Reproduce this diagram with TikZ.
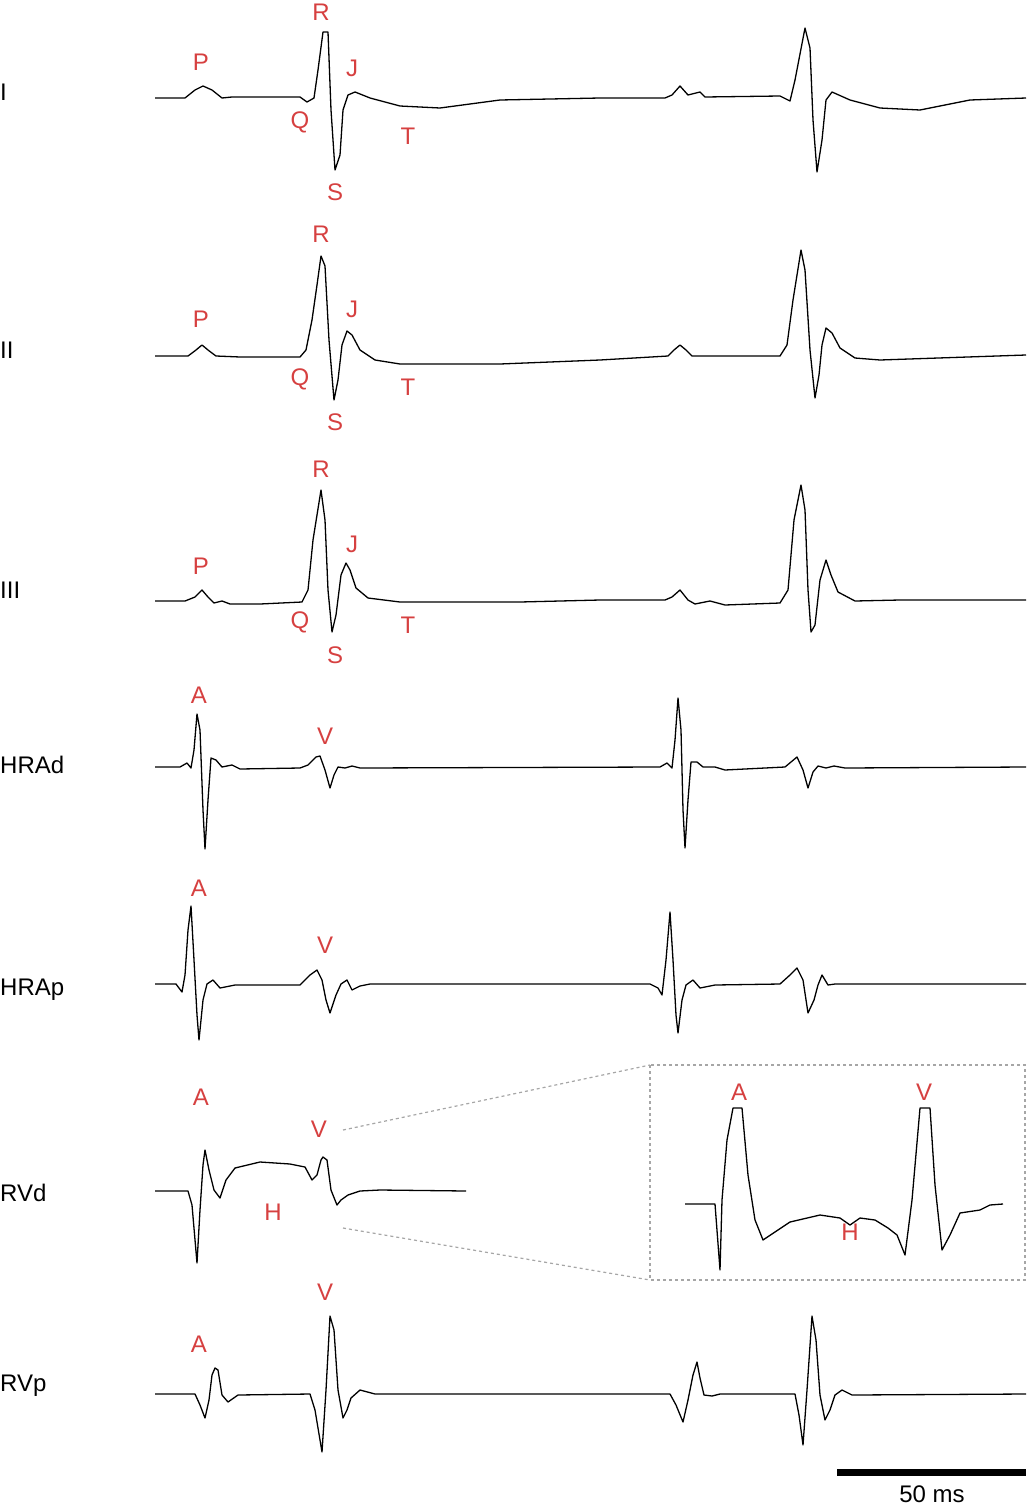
\documentclass[tikz,border=0pt]{standalone}
\usepackage{fontspec}
\setmainfont{Liberation Sans}
\usepackage{tikz}

\definecolor{wavered}{RGB}{214,64,64}
\tikzset{
  trace/.style={line width=1.3pt,black,line join=round},
  wave/.style={text=wavered,font=\fontsize{24}{24}\selectfont,inner sep=0pt},
  lead/.style={font=\fontsize{24}{24}\selectfont,inner sep=0pt,anchor=west},
  zoomline/.style={gray!70,dashed,line width=1.2pt}
}

\begin{document}
\begin{tikzpicture}[x=1pt,y=-1pt]
        \useasboundingbox (0,0) rectangle (1029,1507);
        % lead names
        \node[lead] (nI) at (0,92) {I};
        \node[lead] (nII) at (0,350) {II};
        \node[lead] (nIII) at (0,590) {III};
        \node[lead] (nHRAd) at (0,765) {HRAd};
        \node[lead] (nHRAp) at (0,990) {HRAp};
        \node[lead] (nRVd) at (0,1193) {RVd};
        \node[lead] (nRVp) at (0,1386) {RVp};
        % lead I
        \draw[trace] (155,98) -- (185,98) -- (195,90) -- (203,86) -- (212,90) -- (222,98) -- (232,97) -- (300,97) -- (307,102) -- (314,98) -- (318,70) -- (323,32) -- (328,32) -- (331,110) -- (335,170) -- (340,155) -- (343,110) -- (348,95) -- (355,92) -- (370,98) -- (400,106) -- (440,108) -- (500,100) -- (600,98) -- (665,98) -- (672,95) -- (680,86) -- (688,95) -- (700,92) -- (705,97) -- (780,96) -- (790,101) -- (795,80) -- (805,28) -- (810,48) -- (813,120) -- (817,172) -- (822,140) -- (826,100) -- (832,92) -- (850,100) -- (880,108) -- (920,110) -- (970,100) -- (1026,98);
        \node[wave] (p1) at (201,62) {P};
        \node[wave] (r1) at (321,12) {R};
        \node[wave] (j1) at (352,68) {J};
        \node[wave] (q1) at (300,122) {Q};
        \node[wave] (t1) at (408,136) {T};
        \node[wave] (s1) at (335,192) {S};
        % lead II
        \draw[trace] (155,356) -- (188,356) -- (196,350) -- (202,345) -- (208,350) -- (216,356) -- (240,357) -- (300,357) -- (306,350) -- (312,320) -- (317,285) -- (321,256) -- (325,266) -- (329,340) -- (334,400) -- (338,380) -- (342,345) -- (347,331) -- (352,335) -- (360,350) -- (375,360) -- (400,364) -- (500,364) -- (600,360) -- (668,356) -- (674,350) -- (680,345) -- (686,350) -- (692,356) -- (780,356) -- (787,345) -- (793,300) -- (801,250) -- (805,270) -- (810,350) -- (815,398) -- (819,375) -- (822,345) -- (826,328) -- (832,333) -- (840,348) -- (855,358) -- (880,360) -- (1026,355);
        \node[wave] (p2) at (201,319) {P};
        \node[wave] (r2) at (321,234) {R};
        \node[wave] (j2) at (352,309) {J};
        \node[wave] (q2) at (300,379) {Q};
        \node[wave] (t2) at (408,387) {T};
        \node[wave] (s2) at (335,422) {S};
        % lead III
        \draw[trace] (155,601) -- (185,601) -- (195,597) -- (202,590) -- (208,597) -- (214,603) -- (222,601) -- (230,604) -- (260,604) -- (302,602) -- (308,590) -- (313,540) -- (321,490) -- (325,520) -- (328,590) -- (332,632) -- (336,615) -- (341,575) -- (346,563) -- (350,570) -- (356,588) -- (368,598) -- (400,602) -- (520,602) -- (600,600) -- (665,600) -- (672,597) -- (680,590) -- (688,600) -- (695,604) -- (710,601) -- (725,605) -- (780,603) -- (788,590) -- (794,520) -- (801,485) -- (805,510) -- (808,590) -- (811,632) -- (815,625) -- (820,580) -- (826,560) -- (831,575) -- (838,592) -- (855,601) -- (900,600) -- (1026,600);
        \node[wave] (p3) at (201,566) {P};
        \node[wave] (r3) at (321,469) {R};
        \node[wave] (j3) at (352,544) {J};
        \node[wave] (q3) at (300,622) {Q};
        \node[wave] (t3) at (408,625) {T};
        \node[wave] (s3) at (335,655) {S};
        % HRAd
        \draw[trace] (155,767) -- (180,767) -- (187,763) -- (191,768) -- (194,750) -- (197,714) -- (200,730) -- (203,810) -- (205,849) -- (208,800) -- (211,758) -- (216,760) -- (222,767) -- (232,765) -- (240,769) -- (300,768) -- (308,765) -- (316,757) -- (320,756) -- (325,770) -- (330,788) -- (334,775) -- (338,767) -- (345,768) -- (352,766) -- (360,768) -- (660,767) -- (667,763) -- (672,768) -- (675,740) -- (678,698) -- (681,730) -- (683,810) -- (685,848) -- (688,800) -- (691,762) -- (697,762) -- (703,767) -- (715,767) -- (725,770) -- (785,767) -- (791,762) -- (797,757) -- (803,770) -- (808,788) -- (813,772) -- (818,766) -- (826,768) -- (834,766) -- (845,768) -- (1026,767);
        \node[wave] (a4) at (199,695) {A};
        \node[wave] (v4) at (325,736) {V};
        % HRAp
        \draw[trace] (155,984) -- (176,984) -- (182,992) -- (185,975) -- (188,930) -- (191,906) -- (194,960) -- (197,1015) -- (199,1040) -- (203,1000) -- (207,984) -- (213,980) -- (220,988) -- (235,985) -- (300,985) -- (310,975) -- (317,970) -- (322,980) -- (326,1000) -- (330,1013) -- (336,995) -- (341,984) -- (347,980) -- (352,990) -- (360,986) -- (370,984) -- (650,984) -- (658,988) -- (662,995) -- (666,960) -- (670,912) -- (673,960) -- (676,1015) -- (678,1033) -- (682,1000) -- (686,985) -- (693,980) -- (700,988) -- (715,985) -- (780,984) -- (790,975) -- (797,968) -- (803,980) -- (808,1013) -- (814,1000) -- (818,985) -- (822,975) -- (828,985) -- (835,984) -- (1026,984);
        \node[wave] (a5) at (199,888) {A};
        \node[wave] (v5) at (325,945) {V};
        % RVd
        \draw[trace] (155,1191) -- (188,1191) -- (192,1205) -- (197,1263) -- (200,1210) -- (203,1165) -- (205,1150) -- (209,1170) -- (214,1190) -- (220,1198) -- (226,1180) -- (235,1168) -- (260,1162) -- (290,1164) -- (305,1167) -- (312,1180) -- (317,1175) -- (321,1160) -- (323,1157) -- (327,1160) -- (331,1190) -- (335,1200) -- (337,1205) -- (341,1200) -- (348,1195) -- (360,1191) -- (380,1190) -- (466,1191);
        \node[wave] (a6) at (201,1097) {A};
        \node[wave] (v6) at (319,1129) {V};
        \node[wave] (h6) at (273,1212) {H};
        % zoom box
        \draw[zoomline] (650,1065) rectangle (1025,1280);
        \coordinate (zt) at (343,1130);
        \coordinate (zb) at (343,1228);
        \draw[zoomline] (zt) -- (650,1065);
        \draw[zoomline] (zb) -- (650,1280);
        \draw[trace] (685,1204) -- (715,1204) -- (720,1270) -- (722,1200) -- (727,1140) -- (733,1108) -- (742,1108) -- (748,1175) -- (755,1220) -- (763,1240) -- (775,1232) -- (790,1222) -- (820,1215) -- (840,1218) -- (850,1225) -- (860,1218) -- (875,1220) -- (888,1228) -- (897,1235) -- (905,1255) -- (912,1200) -- (920,1108) -- (930,1108) -- (935,1185) -- (942,1250) -- (950,1235) -- (960,1213) -- (980,1210) -- (990,1205) -- (1003,1204);
        \node[wave] (a7) at (739,1092) {A};
        \node[wave] (v7) at (924,1092) {V};
        \node[wave] (h7) at (850,1232) {H};
        % RVp
        \draw[trace] (155,1394) -- (195,1394) -- (200,1405) -- (205,1418) -- (209,1400) -- (212,1375) -- (215,1368) -- (218,1370) -- (222,1395) -- (228,1402) -- (238,1395) -- (310,1394) -- (315,1410) -- (322,1452) -- (326,1390) -- (330,1316) -- (334,1330) -- (338,1390) -- (343,1418) -- (347,1410) -- (351,1398) -- (360,1390) -- (375,1394) -- (670,1394) -- (676,1405) -- (683,1422) -- (688,1400) -- (693,1375) -- (697,1362) -- (700,1378) -- (704,1395) -- (712,1396) -- (720,1394) -- (795,1394) -- (799,1415) -- (803,1445) -- (807,1390) -- (812,1316) -- (816,1340) -- (820,1395) -- (825,1420) -- (830,1410) -- (835,1395) -- (842,1390) -- (852,1395) -- (1026,1394);
        \node[wave] (a8) at (199,1344) {A};
        \node[wave] (v8) at (325,1292) {V};
        % scale bar
        \coordinate (sb1) at (837,1472);
        \coordinate (sb2) at (1026,1472);
        \draw[line width=7pt] (sb1) -- (sb2);
        \node[font=\fontsize{24}{24}\selectfont,inner sep=0pt] (ms) at (932,1494) {50 ms};
\end{tikzpicture}
\end{document}
